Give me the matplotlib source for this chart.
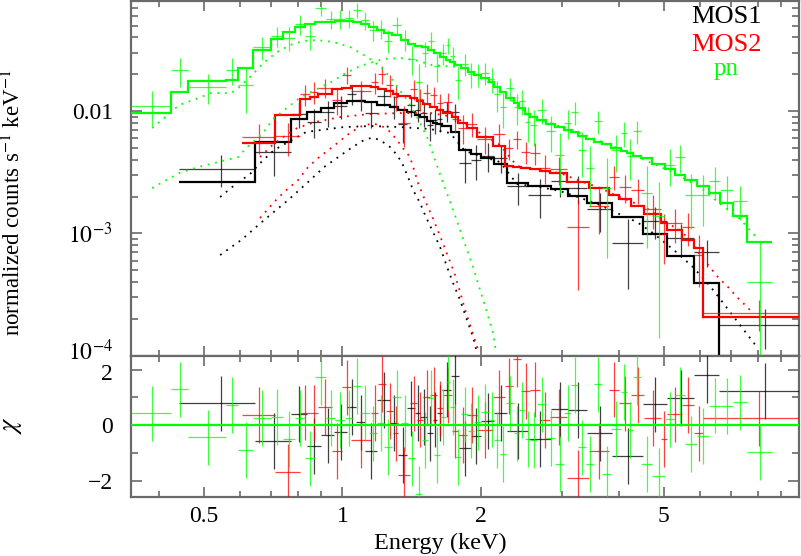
import numpy as np
import matplotlib
matplotlib.use("Agg")
import matplotlib.pyplot as plt
import matplotlib.transforms as mtransforms
from matplotlib.ticker import FixedLocator, FixedFormatter, NullFormatter, FuncFormatter

plt.rcParams['font.family'] = ['Liberation Serif', 'DejaVu Serif']
plt.rcParams['mathtext.fontset'] = 'stix'

# ---------------- MOS1 (black) ----------------
mos1_edges = [0.4416, 0.6459, 0.7735, 0.8380, 0.8989, 0.9593, 1.0238, 1.0710, 1.1203,
              1.1898, 1.2696, 1.3214, 1.3823, 1.4388, 1.4754, 1.5281, 1.5749, 1.6067,
              1.6474, 1.7233, 1.7935, 1.9045, 2.0022, 2.1367, 2.2809, 2.5333, 2.8424,
              3.0951, 3.4037, 3.8572, 4.5053, 5.0802, 5.8157, 6.5895, 10.0]
mos1_model = [0.002627, 0.005547, 0.008601, 0.00981, 0.01062, 0.01156, 0.01214, 0.01214,
              0.01178, 0.01120, 0.01084, 0.01019, 0.00981, 0.00936, 0.00898, 0.00836,
              0.00805, 0.00783, 0.00754, 0.00680, 0.00480, 0.00449, 0.00413, 0.00372,
              0.002578, 0.002435, 0.002290, 0.002030, 0.001759, 0.001367, 0.000987,
              0.000652, 0.000390, 0.0001]
mos1_chi = [0.78, -0.57, 0.4, -0.76, -0.37, -0.25, 0.65, 0.1, -0.93, 0.9, 0.07, -1.08,
            0.6, 0.43, 0.29, -0.3, 0.2, 0.43, 1.28, 1.76, -0.84, -0.4, 0.15, 0.43, -0.22,
            -0.5, 0.57, 0.54, -0.3, -1.12, 0.75, 0.98, 1.8, 1.23]
mos1_relerr = [0.37, 0.30, 0.25, 0.22, 0.22, 0.20, 0.20, 0.20, 0.20, 0.20, 0.22, 0.22,
               0.22, 0.22, 0.25, 0.25, 0.25, 0.25, 0.25, 0.25, 0.25, 0.28, 0.28, 0.28,
               0.28, 0.30, 0.30, 0.30, 0.32, 0.35, 0.38, 0.42, 0.45, 0.63]
mos1_soft_E = [0.5421, 0.6022, 0.6758, 0.7620, 0.8421, 0.9125, 0.9935, 1.0445, 1.1035,
               1.1603, 1.2078, 1.2696, 1.3148, 1.3482, 1.3890, 1.4245, 1.4754, 1.5128,
               1.5668, 1.6310, 1.6891, 1.7406, 1.8024, 1.8667, 1.9236, 1.9624]
mos1_soft_F = [0.000665, 0.000881, 0.001285, 0.001872, 0.002627, 0.003484, 0.004368,
               0.004983, 0.00568, 0.00607, 0.00579, 0.00508, 0.004368, 0.003756, 0.002886,
               0.002260, 0.00177, 0.001411, 0.001064, 0.000773, 0.000530, 0.000392,
               0.000285, 0.000195, 0.000142, 0.000105]
mos1_hard_E = [0.5421, 0.5934, 0.6268, 0.6658, 0.7104, 0.7620, 0.8338, 0.8989, 1.0085,
               1.1487, 1.3353, 1.5514, 1.7147, 1.8480, 2.0638, 2.2023, 2.3977, 2.6901,
               2.9734, 3.2537, 3.6334, 3.9549, 4.3718, 4.7355, 5.2881, 5.7861, 6.3007,
               6.8613, 7.3214, 7.9722]
mos1_hard_F = [0.001981, 0.002627, 0.002997, 0.003828, 0.00480, 0.005578, 0.006736,
               0.00700, 0.00740, 0.00754, 0.00740, 0.00713, 0.00661, 0.00471, 0.00413,
               0.003828, 0.002530, 0.002391, 0.002218, 0.001981, 0.001704, 0.001466,
               0.001237, 0.001006, 0.000717, 0.000530, 0.000371, 0.000245, 0.000178,
               0.0001176]

# ---------------- MOS2 (red) ----------------
mos2_edges = [0.6053, 0.7140, 0.8091, 0.8506, 0.8855, 0.9497, 0.9985, 1.0445, 1.1544,
              1.1958, 1.2446, 1.2887, 1.3214, 1.4032, 1.4534, 1.4978, 1.5514, 1.6067,
              1.6557, 1.7320, 1.7846, 1.8667, 1.9624, 2.1261, 2.2583, 2.3497, 2.4461,
              2.5586, 2.6901, 2.8281, 3.0797, 3.4376, 3.8000, 3.9953, 4.2427, 4.5282,
              4.9292, 5.0802, 5.4767, 5.8157, 6.0826, 10.0]
mos2_model = [0.005506, 0.009327, 0.01246, 0.01309, 0.01377, 0.01504, 0.01542, 0.01616,
              0.01571, 0.01513, 0.01471, 0.01390, 0.01326, 0.01289, 0.01207, 0.01152,
              0.01088, 0.01029, 0.00963, 0.00902, 0.00798, 0.00726, 0.00617, 0.00522,
              0.00355, 0.00352, 0.00345, 0.00336, 0.00326, 0.00309, 0.00264, 0.00233,
              0.00206, 0.00191, 0.00168, 0.00144, 0.00121, 0.00106, 0.000881, 0.000754,
              0.000208]
mos2_chi = [0.37, -1.68, 0.45, 0.43, 0.65, -0.93, 1.36, -0.54, 0.43, 1.48, 0.5, -0.3,
            -1.8, 0.78, 0.2, 1.0, 1.08, 0.6, 1.08, -0.2, -0.36, 0.36, -0.18, 1.0, 1.4,
            2.37, 1.22, 1.28, 0.18, 0.29, -1.9, -0.92, 1.28, 0.78, 1.08, 0.26, -0.5,
            0.39, 0.72, -0.3, 0.24]
mos2_relerr = [0.30, 0.20, 0.22, 0.22, 0.20, 0.20, 0.20, 0.18, 0.22, 0.22, 0.22, 0.22,
               0.22, 0.22, 0.22, 0.22, 0.22, 0.22, 0.22, 0.22, 0.24, 0.24, 0.24, 0.25,
               0.28, 0.28, 0.28, 0.28, 0.28, 0.28, 0.30, 0.30, 0.32, 0.32, 0.32, 0.34,
               0.36, 0.36, 0.38, 0.40, 0.31]
mos2_soft_E = [0.6621, 0.7104, 0.7468, 0.8010, 0.8421, 0.8855, 0.9450, 0.9935, 1.0445,
               1.1035, 1.1661, 1.2261, 1.2696, 1.3148, 1.3482, 1.4032, 1.4608, 1.5205,
               1.5668, 1.6310, 1.6891, 1.7491, 1.8024, 1.8575, 1.9142, 1.9829]
mos2_soft_F = [0.001334, 0.001804, 0.002177, 0.002728, 0.003484, 0.00413, 0.004983,
               0.00579, 0.006736, 0.00754, 0.00793, 0.00744, 0.00677, 0.00579, 0.00508,
               0.004207, 0.002578, 0.00177, 0.00138, 0.000950, 0.000677, 0.000483,
               0.000331, 0.000223, 0.000159, 0.000105]
mos2_hard_E = [0.6621, 0.6963, 0.7433, 0.7970, 0.8721, 0.9886, 1.1487, 1.3353, 1.5514,
               1.7580, 1.9142, 2.0427, 2.2023, 2.3977, 2.6901, 2.9734, 3.2863, 3.6334,
               3.9154, 4.2218, 4.6668, 5.0290, 5.4216, 5.6997, 5.9948, 6.2686, 6.5559,
               6.8958, 7.2109, 7.5840, 7.7766]
mos2_hard_F = [0.004207, 0.00508, 0.00613, 0.00726, 0.00813, 0.00893, 0.00945, 0.00963,
               0.00963, 0.00893, 0.00726, 0.00625, 0.00527, 0.00355, 0.00329, 0.00311,
               0.00268, 0.00235, 0.00206, 0.001837, 0.00155, 0.001237, 0.001064,
               0.000881, 0.000665, 0.000540, 0.000439, 0.000364, 0.000301, 0.000250,
               0.000227]

# ---------------- pn (green) ----------------
pn_edges = [0.3472, 0.4242, 0.4620, 0.5587, 0.5934, 0.6395, 0.6998, 0.7433, 0.7892,
            0.8296, 0.8721, 0.9217, 0.9641, 1.0136, 1.0550, 1.0980, 1.1429, 1.1898,
            1.2322, 1.2823, 1.3414, 1.3890, 1.4388, 1.4904, 1.5358, 1.5826, 1.6310,
            1.6807, 1.7147, 1.7580, 1.8114, 1.8760, 1.9333, 2.0022, 2.0839, 2.1367,
            2.2023, 2.2697, 2.3616, 2.4215, 2.4956, 2.5586, 2.6502, 2.7719, 2.8999,
            3.0339, 3.1419, 3.2537, 3.3866, 3.5248, 3.6688, 3.8378, 4.0357, 4.1585,
            4.2855, 4.4599, 4.7127, 5.0290, 5.2881, 5.5590, 5.9036, 6.2686, 6.6225,
            7.0697, 7.5840, 8.5941]
pn_model = [0.00958, 0.01422, 0.01769, 0.01793, 0.02234, 0.03153, 0.03857, 0.04401,
            0.04909, 0.05195, 0.05313, 0.05394, 0.05495, 0.05495, 0.05342, 0.05145,
            0.04862, 0.04639, 0.04385, 0.04183, 0.03806, 0.03530, 0.03432, 0.03337,
            0.03153, 0.02980, 0.02790, 0.02637, 0.02516, 0.02377, 0.02234, 0.02096,
            0.01970, 0.01851, 0.01736, 0.01571, 0.01430, 0.01289, 0.01163, 0.01058,
            0.00954, 0.00902, 0.00844, 0.00790, 0.00747, 0.00706, 0.00680, 0.00630,
            0.00590, 0.00563, 0.00542, 0.00503, 0.00475, 0.00458, 0.00433, 0.00410,
            0.00369, 0.00339, 0.00302, 0.00273, 0.00244, 0.00212, 0.00177, 0.00138,
            0.000844]
pn_chi = [0.42, 1.29, -0.44, 0.72, -0.9, 0.25, 0.29, -0.5, 0.25, -1.2, 1.72, 0.25, 0.18,
          0.25, 1.4, 0.43, -0.3, 0.07, -0.78, 1.0, 0.07, -1.2, -2.48, -0.54, 0.97, -1.08,
          0.3, 1.55, 0.65, -1.14, 0.39, -0.2, 0.1, 0.47, 0.2, -0.54, -1.04, 0.78, -0.3,
          0.54, -0.5, -0.54, 0.75, -0.47, -1.4, 0.44, 1.44, -0.8, -1.4, 1.47, -1.76,
          -0.14, 1.2, -0.18, 1.72, -1.4, -1.83, 0.21, 1.08, -0.67, -0.4, 0.7, 0.68, 0.82,
          -0.96]
pn_relerr = [0.37, 0.40, 0.25, 0.30, 0.30, 0.22, 0.20, 0.20, 0.20, 0.18, 0.18, 0.18,
             0.18, 0.18, 0.18, 0.18, 0.18, 0.18, 0.18, 0.20, 0.20, 0.20, 0.20, 0.20,
             0.20, 0.20, 0.20, 0.20, 0.20, 0.22, 0.22, 0.22, 0.22, 0.22, 0.24, 0.24,
             0.24, 0.25, 0.26, 0.26, 0.28, 0.28, 0.28, 0.28, 0.30, 0.30, 0.30, 0.30,
             0.30, 0.32, 0.32, 0.32, 0.32, 0.34, 0.34, 0.34, 0.34, 0.36, 0.36, 0.36,
             0.38, 0.38, 0.40, 0.42, 0.55]
pn_soft_E = [0.3858, 0.4097, 0.4416, 0.4737, 0.5184, 0.5728, 0.5934, 0.6395, 0.6725,
             0.7212, 0.7697, 0.8214, 0.8810, 0.9545, 1.0393, 1.1315, 1.2078, 1.2696,
             1.3823, 1.4534, 1.5281, 1.6557, 1.7406, 1.8024, 1.8667, 1.9236, 1.9926,
             2.0638, 2.1261, 2.1582]
pn_soft_F = [0.00726, 0.00877, 0.01120, 0.01230, 0.01403, 0.01403, 0.01542, 0.02007,
             0.02469, 0.03037, 0.03465, 0.03736, 0.03806, 0.03666, 0.03337, 0.02764,
             0.02333, 0.01897, 0.01230, 0.00893, 0.00613, 0.002578, 0.001550, 0.001064,
             0.000730, 0.000530, 0.000344, 0.000223, 0.000153, 0.000107]
pn_hard_E = [0.3858, 0.4416, 0.4857, 0.5368, 0.5934, 0.6175, 0.6658, 0.7104, 0.7620,
             0.8010, 0.8550, 0.9450, 1.0085, 1.0926, 1.2261, 1.3353, 1.4388, 1.5668,
             1.8024, 2.0226, 2.2023, 2.4338, 2.6901, 3.1574, 3.6334, 4.4375, 5.1584,
             5.9948, 6.6000, 7.3214, 7.9722]
pn_hard_F = [0.002347, 0.003112, 0.003484, 0.003828, 0.004207, 0.004983, 0.006366,
             0.00877, 0.01078, 0.01253, 0.01430, 0.01726, 0.02007, 0.02333, 0.02662,
             0.02713, 0.02612, 0.02377, 0.02289, 0.01827, 0.01485, 0.01058, 0.00844,
             0.00700, 0.00568, 0.00413, 0.00323, 0.00239, 0.00177, 0.001309, 0.000915]

labels = ['MOS1', 'MOS2', 'pn']
colors = ['black', '#ff0000', '#00ff00']
xtick_vals = [0.5, 1, 2, 5]
xtick_labels = ['0.5', '1', '2', '5']

# ---------------- figure ----------------
W, H = 801, 556
fig = plt.figure(figsize=(W / 100, H / 100), dpi=100)
left, right = 131 / W, 799.3 / W
ax1 = fig.add_axes([left, 1 - 355.7 / H, right - left, (355.7 - 0.7) / H])
ax2 = fig.add_axes([left, 1 - 496.7 / H, right - left, (496.7 - 355.7) / H], sharex=ax1)

spine_col = '#6a6a6a'


def draw_set(edges, model, chi, rel, soft, hard, color, zo):
    edges = np.asarray(edges)
    lo, hi = edges[:-1], edges[1:]
    cen = 0.5 * (lo + hi)
    model = np.asarray(model)
    chi = np.asarray(chi)
    sig = np.asarray(rel) * model
    data = model + chi * sig
    # top panel
    ax1.hlines(data, lo, hi, color=color, lw=0.9, alpha=0.75, zorder=zo)
    ax1.vlines(cen, np.maximum(data - sig, 1e-7), data + sig, color=color, lw=0.9,
               alpha=0.75, zorder=zo)
    ax1.stairs(np.maximum(model, 1.0e-4), edges, baseline=None, color=color, lw=1.6,
               zorder=zo + 0.5)
    for (e, f) in (soft, hard):
        ax1.plot(e, f, color=color, lw=1.3, ls=(0, (1, 3.2)), zorder=zo + 0.6)
    # residuals
    ax2.hlines(chi, lo, hi, color=color, lw=0.9, alpha=0.75, zorder=zo)
    ax2.vlines(cen, chi - 1, chi + 1, color=color, lw=0.9, alpha=0.75, zorder=zo)


draw_set(mos1_edges, mos1_model, mos1_chi, mos1_relerr,
         (mos1_soft_E, mos1_soft_F), (mos1_hard_E, mos1_hard_F), colors[0], 3)
draw_set(mos2_edges, mos2_model, mos2_chi, mos2_relerr,
         (mos2_soft_E, mos2_soft_F), (mos2_hard_E, mos2_hard_F), colors[1], 4)
draw_set(pn_edges, pn_model, pn_chi, pn_relerr,
         (pn_soft_E, pn_soft_F), (pn_hard_E, pn_hard_F), colors[2], 5)

ax2.axhline(0, color=colors[2], lw=1.6, zorder=6)

# axes setup
ax1.set_xscale('log')
ax1.set_yscale('log')
ax1.set_xlim(0.347, 9.85)
ax1.set_ylim(1.0e-4, 0.0798)
ax2.set_ylim(-2.575, 2.5)

for ax in (ax1, ax2):
    for s in ax.spines.values():
        s.set_color(spine_col)
        s.set_linewidth(1.6)
    ax.tick_params(which='both', direction='in', top=True, right=True,
                   color=spine_col, width=1.2, labelsize=17)
    ax.tick_params(axis='x', which='major', length=7)
    ax.tick_params(axis='x', which='minor', length=4.5)
    ax.tick_params(axis='y', which='major', length=8, pad=13)
    ax.tick_params(axis='y', which='minor', length=5)

ax1.xaxis.set_major_locator(FixedLocator(xtick_vals))
ax1.xaxis.set_minor_locator(FixedLocator([0.4, 0.6, 0.7, 0.8, 0.9, 3, 4, 6, 7, 8, 9]))
ax1.xaxis.set_major_formatter(FixedFormatter(xtick_labels))
ax1.xaxis.set_minor_formatter(NullFormatter())
ax1.tick_params(axis='x', labelbottom=False)
ax2.tick_params(axis='x', labelbottom=True, pad=7)


def yfmt(v, pos):
    if abs(v - 0.01) < 1e-9:
        return '0.01'
    e = int(round(np.log10(v)))
    return r'$10^{%d}$' % e


ax1.yaxis.set_major_locator(FixedLocator([1e-4, 1e-3, 1e-2]))
ax1.yaxis.set_major_formatter(FuncFormatter(yfmt))
ax1.yaxis.set_minor_formatter(NullFormatter())

ax2.yaxis.set_major_locator(FixedLocator([-2, 0, 2]))
ax2.yaxis.set_minor_locator(FixedLocator([-1, 1]))

# nudge the two labels that meet at the panel join so they do not collide
fig.canvas.draw()
for t in ax1.get_yticklabels():
    if t.get_text() == r'$10^{-4}$':
        t.set_transform(t.get_transform() +
                        mtransforms.ScaledTranslation(0, 4.5 / 72, fig.dpi_scale_trans))
for t in ax2.get_yticklabels():
    if t.get_text() == '2':
        t.set_transform(t.get_transform() +
                        mtransforms.ScaledTranslation(0, -1.5 / 72, fig.dpi_scale_trans))

# labels
fig.text(13 / W, 1 - 203 / H, r'normalized counts s$^{-1}$ keV$^{-1}$', rotation=90,
         ha='center', va='center', fontsize=16.5)
fig.text(13 / W, 1 - 425 / H, r'$\chi$', rotation=90, ha='center', va='center',
         fontsize=19)
fig.text(440 / W, 1 - 543 / H, 'Energy (keV)', ha='center', va='center', fontsize=17.5)

ys = [23, 51, 75]
sizes = [19, 19, 18]
for lab, col, yb, fs in zip(labels, colors, ys, sizes):
    fig.text(726 / W, 1 - yb / H, lab, color=col, ha='center', va='baseline',
             fontsize=fs)

fig.savefig('out.png', dpi=100)
